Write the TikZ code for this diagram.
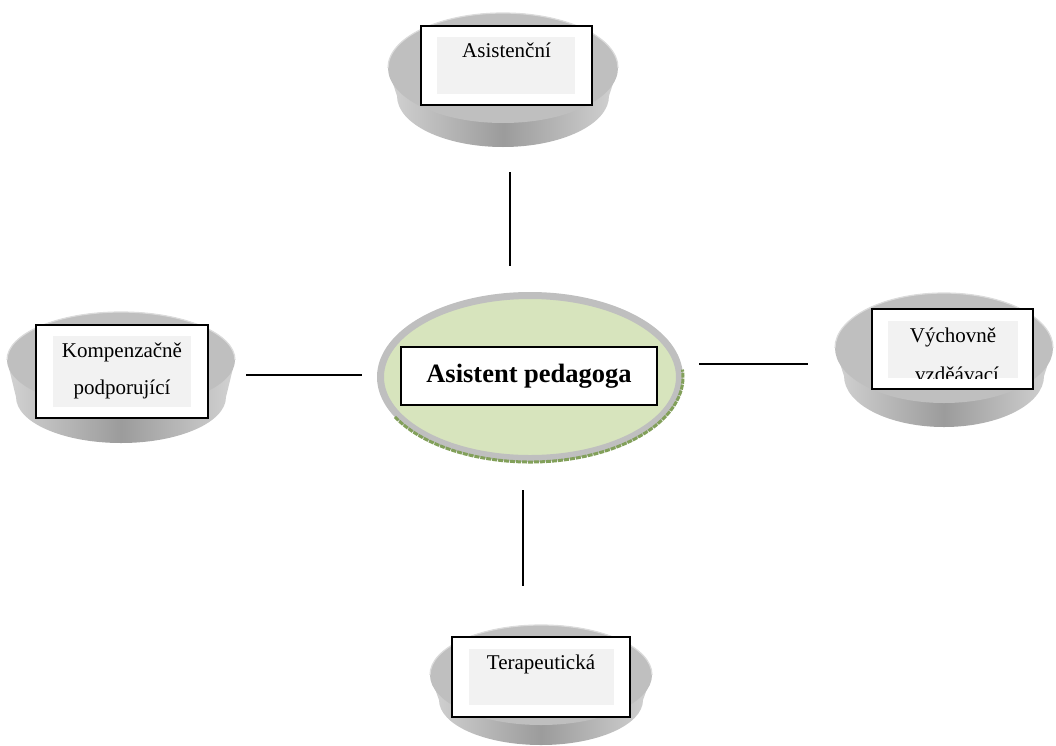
\documentclass[tikz,border=0pt]{standalone}
\usepackage{fontspec}
\setmainfont{Liberation Serif}
\usetikzlibrary{positioning,calc}
\definecolor{hubgreen}{RGB}{215,228,189}
\definecolor{rimgreen}{RGB}{130,160,90}
\definecolor{panelgray}{RGB}{242,242,242}
\tikzset{
dishside/.style={left color=gray!35, right color=gray!35, middle color=gray!78},
dishtop/.style={fill=gray!50},
dishrim/.style={draw=gray!28, line width=1.2pt},
boxframe/.style={
  rectangle,
  draw=black,
  fill=white,
  line width=1.5pt,
  inner sep=0pt
  },
panel/.style={fill=panelgray},
lbl/.style={font=\fontsize{21}{25}\selectfont, inner sep=0pt, anchor=base},
link/.style={line width=1.2pt},
%hubrim/.style={draw=gray!50, line width=7pt}
}

\begin{document}
\begin{tikzpicture}[x=1pt,y=-1pt]
    \useasboundingbox (0,0) rectangle (1056,745);
    % dishes
    \foreach \cx/\cy/\rx/\ry/\d/\rb in {503/68/115/55/28/51, 121/360/114/48/37/46, 944/348/109/55/28/51, 541/675/111/50/25/45}
    {
        \shade[dishside] (\cx-\rx,\cy) -- (\cx-\rx+9,\cy+\d)
            arc[start angle=180, end angle=0, x radius=\rx-9, y radius=\rb]
            -- (\cx+\rx,\cy)
            arc[start angle=0, end angle=-180, x radius=\rx, y radius=\ry] -- cycle;
        \fill[dishtop] (\cx,\cy) ellipse[x radius=\rx, y radius=\ry];
        \draw[dishrim] (\cx-\rx,\cy) arc[start angle=180, end angle=360, x radius=\rx, y radius=\ry];
    }
    % hub
    \draw[fill=hubgreen, draw=gray!50, line width=7pt] (530,377) ellipse[x radius=149.5, y radius=81.5];
    \draw[rimgreen, line width=3pt, dash pattern=on 5pt off 1pt] (530,377) ++(152:153 and 85) arc[start angle=152, end angle=-5, x radius=153, y radius=85];
    \node[boxframe, minimum width=256pt, minimum height=58pt, font=\fontsize{26.5}{30}\selectfont\bfseries] (hub) at (529,376) {Asistent pedagoga};

    % boxes
    \node[boxframe, minimum width=171pt, minimum height=79pt] (asist) at (506.5,65.5) {};
    \fill[panel] (437,37) rectangle (575,94);
    \node[lbl] (asistlbl) at (506.5,57) {Asistenční};

    \node[boxframe, minimum width=172pt, minimum height=93pt] (komp) at (122,371.5) {};
    \fill[panel] (53,336) rectangle (191,407);
    \node[lbl] (komplbl) at (122,357) {Kompenzačně};
    \node[lbl] (komplbl2) at (122,394) {podporující};

    \node[boxframe, minimum width=161pt, minimum height=80pt] (vych) at (952.5,349) {};
    \fill[panel] (888,321) rectangle (1018,378);
    \node[lbl] (vychlbl) at (953,342) {Výchovně};
    \begin{scope}
        \clip (888,321) rectangle (1018,378);
        \node[lbl] (vychlbl2) at (957,381) {vzděávací};
    \end{scope}

    \node[boxframe, minimum width=178pt, minimum height=80pt] (terap) at (541,677) {};
    \fill[panel] (469,649) rectangle (614,705);
    \node[lbl] (teraplbl) at (541,669) {Terapeutická};

    % connectors
    \coordinate (up1) at (510,172);
    \coordinate (up2) at (510,266);
    \coordinate (lf1) at (246,375);
    \coordinate (lf2) at (362,375);
    \coordinate (rt1) at (699,364);
    \coordinate (rt2) at (808,364);
    \coordinate (dn1) at (523,490);
    \coordinate (dn2) at (523,586);
    \draw[link] (up1) -- (up2);
    \draw[link] (lf1) -- (lf2);
    \draw[link] (rt1) -- (rt2);
    \draw[link] (dn1) -- (dn2);

\end{tikzpicture}
\end{document}
